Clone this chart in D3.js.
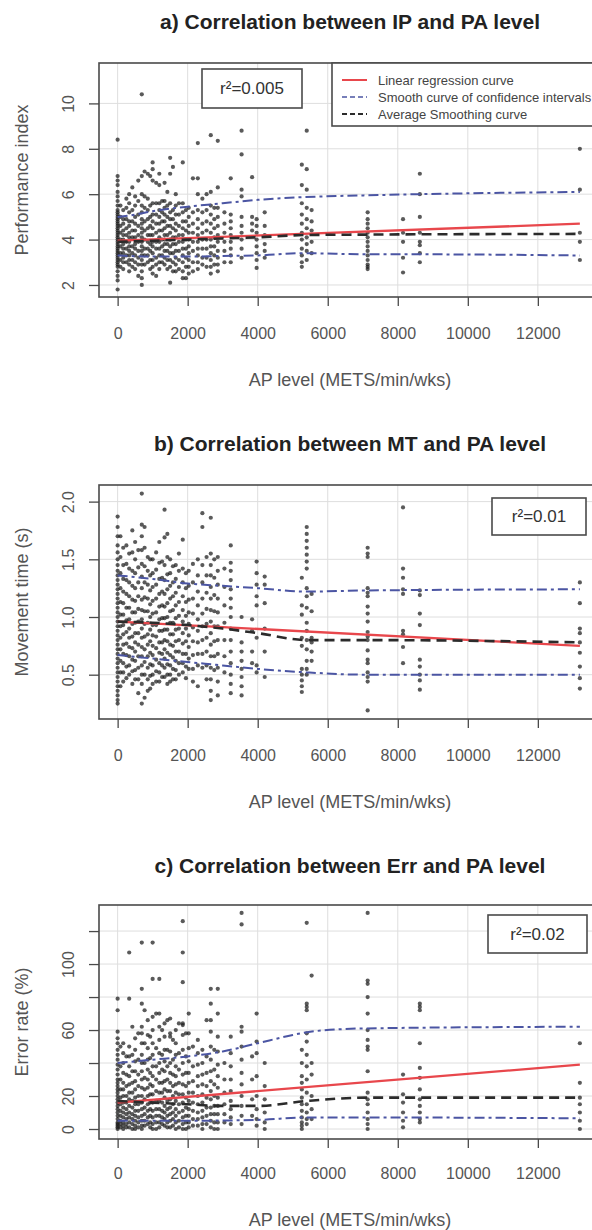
<!DOCTYPE html>
<html>
<head>
<meta charset="utf-8">
<script src="https://cdn.jsdelivr.net/npm/d3@7"></script>
<style>
	body { margin: 0; background: #fff; }
	svg { display: block; }
</style>
</head>
<body>
<div id="chart"></div>
<script>
'use strict'

/**
 * Three scatter panels : AP level against IP, MT and Err.
 */

// AP level columns (METS/min/wks), shared by the three panels
const apLevels = [0, 160, 330, 500, 690, 860, 1000, 1190, 1340, 1500, 1660, 1860, 2030, 2290, 2420,
	2660, 2860, 3230, 3540, 3840, 3970, 4200, 5260, 5400, 5540, 7140, 8150, 8630, 13200];
// in-between columns of the dense low range
const apLevelsExtra = [80, 250, 420, 590, 770, 930, 1100, 1270, 1420, 1580, 1750, 1950, 2150, 2540, 2760, 3050];

// Performance index, one list per AP level
const ipValues = [
	[8.4, 6.8, 6.6, 6.4, 6.1, 5.9, 5.7, 5.5, 5.3, 5.2, 5.1, 5.0, 4.9, 4.8, 4.7, 4.6, 4.5, 4.4, 4.3, 4.2, 4.1, 4.0, 3.9, 3.8, 3.7, 3.6, 3.5, 3.4, 3.3, 3.2, 3.1, 3.0, 2.9, 2.8, 2.6, 2.4, 2.2, 1.8],
	[5.3, 4.9, 4.7, 4.4, 4.2, 4.0, 3.8, 3.6, 3.4, 3.2, 3.0, 2.7],
	[6.0, 5.6, 5.2, 4.8, 4.6, 4.3, 4.1, 3.9, 3.7, 3.5, 3.3, 3.1, 2.9, 2.6],
	[5.9, 5.5, 5.0, 4.7, 4.4, 4.1, 3.8, 3.6, 3.3, 3.0, 2.7],
	[10.4, 6.8, 6.0, 5.5, 5.2, 4.9, 4.7, 4.5, 4.3, 4.1, 3.9, 3.7, 3.5, 3.3, 3.1, 2.9, 2.6, 2.3, 2.0],
	[6.9, 5.8, 5.3, 4.9, 4.5, 4.2, 3.9, 3.6, 3.3, 3.0],
	[7.4, 7.1, 6.6, 5.6, 5.1, 4.8, 4.5, 4.2, 3.9, 3.7, 3.4, 3.1, 2.8, 2.5],
	[6.9, 6.4, 5.6, 5.3, 5.0, 4.7, 4.4, 4.1, 3.9, 3.6, 3.3, 3.0, 2.7],
	[6.5, 5.7, 5.4, 5.1, 4.8, 4.5, 4.2, 4.0, 3.8, 3.5, 3.2, 2.9],
	[7.6, 6.9, 5.6, 5.2, 4.9, 4.6, 4.3, 4.0, 3.7, 3.4, 3.1, 2.8, 2.1],
	[6.0, 5.5, 5.1, 4.7, 4.4, 4.1, 3.8, 3.5, 3.2, 2.9, 2.6],
	[7.4, 5.6, 5.2, 4.8, 4.5, 4.2, 3.9, 3.6, 3.3, 3.0, 2.6, 2.3],
	[5.4, 5.0, 4.6, 4.3, 4.0, 3.7, 3.4, 3.1, 2.8, 2.5],
	[8.25, 6.7, 6.0, 5.3, 4.9, 4.5, 4.2, 3.9, 3.6, 3.3, 3.0, 2.7],
	[5.8, 5.2, 4.7, 4.3, 4.0, 3.6, 3.2, 2.9],
	[8.6, 6.1, 5.5, 5.1, 4.7, 4.3, 4.0, 3.7, 3.4, 3.1, 2.8, 2.5],
	[8.35, 6.3, 5.4, 5.0, 4.6, 4.2, 3.9, 3.5, 3.2, 2.9, 2.6],
	[6.7, 5.1, 4.8, 4.5, 4.2, 3.9, 3.6, 3.3, 3.0],
	[8.8, 7.75, 6.2, 5.9, 5.0, 4.6, 4.3, 4.0, 3.6, 3.2],
	[6.75, 5.0, 4.7, 4.4],
	[4.9, 4.6, 4.3, 4.0, 3.7, 3.4, 3.1, 2.75],
	[5.2, 4.6, 4.2, 3.8, 3.5, 3.2],
	[7.3, 6.4, 5.6, 5.1, 4.7, 4.3, 4.0, 3.6, 3.3, 3.0, 2.8],
	[8.8, 7.1, 6.2, 5.4, 4.9, 4.5, 4.1, 3.8, 3.5, 3.1],
	[5.3, 4.8, 4.4, 3.9, 3.4],
	[5.2, 4.9, 4.7, 4.5, 4.3, 4.1, 3.9, 3.7, 3.5, 3.3, 3.1, 2.9, 2.8, 2.7],
	[4.9, 4.3, 3.9, 3.2, 2.55],
	[6.9, 6.0, 5.0, 4.3, 3.9, 3.75, 3.4, 3.0],
	[8.0, 6.2, 4.3, 3.9, 3.1]
];
const ipExtra = [
	[5.5, 5.0, 4.6, 4.3, 4.0, 3.7, 3.4, 3.1, 2.8],
	[5.8, 5.4, 4.9, 4.5, 4.2, 3.9, 3.6, 3.3, 3.0],
	[6.3, 5.3, 4.8, 4.4, 4.1, 3.7, 3.4, 3.1, 2.8],
	[6.6, 5.7, 5.1, 4.6, 4.2, 3.9, 3.5, 3.2, 2.9, 2.4],
	[7.0, 5.9, 5.4, 4.8, 4.4, 4.0, 3.6, 3.3, 2.9],
	[6.8, 5.5, 5.0, 4.6, 4.2, 3.8, 3.5, 3.1, 2.7],
	[6.5, 5.6, 5.1, 4.7, 4.3, 3.9, 3.6, 3.2, 2.9, 2.4],
	[5.7, 5.2, 4.8, 4.4, 4.0, 3.7, 3.3, 3.0],
	[6.1, 5.5, 5.0, 4.6, 4.2, 3.8, 3.5, 3.1, 2.7],
	[7.2, 5.3, 4.9, 4.5, 4.1, 3.8, 3.4, 3.0, 2.6],
	[5.6, 5.1, 4.6, 4.2, 3.9, 3.5, 3.1, 2.7],
	[5.3, 4.8, 4.4, 4.0, 3.6, 3.2, 2.8, 2.3],
	[6.7, 5.2, 4.7, 4.3, 3.9, 3.5, 3.0, 2.6],
	[6.0, 5.3, 4.8, 4.4, 4.0, 3.6, 3.2, 2.8],
	[5.4, 4.9, 4.5, 4.1, 3.7, 3.3, 2.9],
	[5.2, 4.7, 4.3, 3.9, 3.5, 3.0]
];

// Movement time (s)
const mtValues = [
	[1.87, 1.78, 1.7, 1.62, 1.56, 1.5, 1.45, 1.4, 1.36, 1.32, 1.28, 1.24, 1.2, 1.16, 1.12, 1.08, 1.04, 1.0, 0.96, 0.92, 0.88, 0.84, 0.8, 0.76, 0.72, 0.68, 0.64, 0.6, 0.56, 0.52, 0.48, 0.44, 0.4, 0.36, 0.32, 0.28, 0.25],
	[1.6, 1.45, 1.33, 1.22, 1.12, 1.02, 0.93, 0.85, 0.76, 0.68, 0.6, 0.52, 0.44],
	[1.55, 1.42, 1.3, 1.18, 1.08, 0.98, 0.9, 0.82, 0.74, 0.66, 0.58, 0.5],
	[1.65, 1.5, 1.38, 1.25, 1.14, 1.04, 0.95, 0.86, 0.78, 0.7, 0.62, 0.54, 0.46],
	[2.07, 1.8, 1.7, 1.58, 1.46, 1.35, 1.25, 1.15, 1.06, 0.98, 0.9, 0.82, 0.74, 0.66, 0.58, 0.5, 0.42, 0.25],
	[1.52, 1.4, 1.28, 1.16, 1.05, 0.95, 0.85, 0.76, 0.66, 0.56, 0.46, 0.36],
	[1.5, 1.38, 1.26, 1.14, 1.03, 0.93, 0.84, 0.75, 0.67, 0.58, 0.5, 0.42],
	[1.65, 1.47, 1.33, 1.2, 1.09, 0.98, 0.88, 0.78, 0.69, 0.6, 0.52, 0.44],
	[1.93, 1.69, 1.45, 1.32, 1.2, 1.09, 0.99, 0.89, 0.8, 0.72, 0.64, 0.56, 0.48],
	[1.5, 1.38, 1.27, 1.16, 1.05, 0.95, 0.85, 0.76, 0.67, 0.58, 0.5, 0.44],
	[1.45, 1.33, 1.21, 1.1, 0.99, 0.89, 0.79, 0.7, 0.62, 0.54, 0.46],
	[1.67, 1.42, 1.3, 1.18, 1.06, 0.96, 0.86, 0.77, 0.68, 0.6, 0.52],
	[1.4, 1.27, 1.15, 1.04, 0.94, 0.84, 0.74, 0.64, 0.55],
	[1.5, 1.36, 1.22, 1.1, 0.98, 0.88, 0.78, 0.68, 0.58, 0.4],
	[1.9, 1.78, 1.45, 1.3, 1.16, 1.03, 0.92, 0.8, 0.68, 0.56],
	[1.86, 1.55, 1.45, 1.36, 1.26, 1.16, 1.06, 0.96, 0.86, 0.76, 0.66, 0.56, 0.46, 0.36, 0.28],
	[1.52, 1.4, 1.28, 1.16, 1.04, 0.92, 0.8, 0.68, 0.56, 0.44, 0.32],
	[1.62, 1.47, 1.4, 1.32, 1.24, 1.16, 1.08, 1.0, 0.9, 0.8, 0.7, 0.6, 0.5, 0.42, 0.34],
	[1.0, 0.78, 0.7, 0.62, 0.55, 0.48, 0.4, 0.32],
	[0.98, 0.88, 0.7, 0.6],
	[1.48, 1.38, 1.28, 1.18, 1.1, 0.82, 0.58, 0.52],
	[1.35, 1.28, 1.12, 0.9, 0.7, 0.48],
	[1.34, 1.1, 1.02, 0.82, 0.75, 0.55, 0.5, 0.45, 0.4, 0.35],
	[1.78, 1.72, 1.66, 1.6, 1.54, 1.48, 1.42, 1.25, 1.18, 1.08, 0.95, 0.88, 0.8, 0.72, 0.62, 0.55, 0.5],
	[1.2, 1.05, 0.82, 0.78, 0.7, 0.62],
	[1.6, 1.55, 1.52, 1.25, 1.21, 1.18, 1.09, 1.03, 0.96, 0.87, 0.83, 0.8, 0.71, 0.63, 0.6, 0.52, 0.48, 0.44, 0.19],
	[1.95, 1.42, 1.34, 1.24, 1.2, 0.88, 0.85, 0.74, 0.6],
	[1.23, 1.19, 1.03, 0.93, 0.63, 0.57, 0.5, 0.45, 0.37],
	[1.3, 1.12, 0.9, 0.86, 0.78, 0.69, 0.57, 0.47, 0.38]
];
const mtExtra = [
	[1.7, 1.52, 1.38, 1.25, 1.13, 1.02, 0.92, 0.82, 0.72, 0.62, 0.52, 0.4],
	[1.62, 1.46, 1.32, 1.2, 1.08, 0.97, 0.87, 0.77, 0.67, 0.57, 0.47],
	[1.75, 1.56, 1.4, 1.27, 1.15, 1.04, 0.94, 0.83, 0.73, 0.63, 0.53, 0.42],
	[1.58, 1.43, 1.3, 1.18, 1.07, 0.96, 0.86, 0.76, 0.66, 0.56, 0.46, 0.34],
	[1.78, 1.6, 1.44, 1.3, 1.17, 1.05, 0.94, 0.83, 0.72, 0.61, 0.5, 0.3],
	[1.5, 1.36, 1.23, 1.11, 1.0, 0.89, 0.79, 0.69, 0.59, 0.49, 0.38],
	[1.56, 1.41, 1.28, 1.16, 1.04, 0.93, 0.83, 0.73, 0.63, 0.53, 0.44],
	[1.48, 1.34, 1.22, 1.1, 0.99, 0.88, 0.78, 0.68, 0.58, 0.48],
	[1.72, 1.52, 1.37, 1.24, 1.12, 1.0, 0.89, 0.79, 0.69, 0.59, 0.5, 0.42],
	[1.44, 1.3, 1.18, 1.06, 0.95, 0.85, 0.75, 0.65, 0.55, 0.46],
	[1.55, 1.4, 1.26, 1.13, 1.01, 0.9, 0.8, 0.7, 0.6, 0.5],
	[1.38, 1.25, 1.13, 1.01, 0.9, 0.79, 0.68, 0.57, 0.47],
	[1.46, 1.3, 1.16, 1.03, 0.91, 0.79, 0.67, 0.55, 0.44],
	[1.52, 1.36, 1.21, 1.07, 0.94, 0.82, 0.7, 0.58, 0.46],
	[1.5, 1.34, 1.19, 1.05, 0.92, 0.79, 0.66, 0.54],
	[1.42, 1.26, 1.1, 0.95, 0.8, 0.66, 0.52]
];

// Error rate (%)
const errValues = [
	[79, 72, 59, 55, 52, 48, 45, 42, 39, 36, 33, 30, 28, 26, 24, 22, 20, 18, 16, 14, 12, 10, 8, 6, 4, 3, 2, 1, 0],
	[52, 46, 40, 34, 28, 24, 20, 16, 13, 10, 7, 4, 2, 0],
	[107, 79, 50, 44, 38, 32, 27, 22, 18, 14, 10, 7, 4, 1],
	[55, 48, 41, 35, 29, 24, 19, 15, 11, 8, 5, 2, 0],
	[113, 85, 76, 62, 58, 52, 45, 40, 35, 30, 25, 20, 16, 12, 8, 5, 2, 0],
	[66, 57, 49, 42, 36, 30, 25, 20, 15, 11, 7, 3],
	[113, 91, 68, 60, 52, 45, 38, 32, 26, 21, 16, 11, 7, 3, 0],
	[91, 70, 62, 54, 46, 40, 34, 28, 22, 17, 12, 8, 4, 1],
	[64, 56, 48, 41, 35, 29, 24, 19, 14, 10, 6, 2],
	[67, 58, 56, 47, 40, 34, 28, 23, 18, 13, 9, 5, 1],
	[60, 52, 45, 38, 32, 27, 22, 17, 12, 8, 4, 0],
	[126, 107, 89, 64, 63, 57, 48, 40, 33, 27, 21, 16, 11, 7, 3, 0],
	[70, 58, 49, 41, 34, 28, 22, 17, 12, 8, 4, 1],
	[54, 46, 39, 32, 26, 20, 15, 10, 6, 2],
	[48, 40, 33, 27, 21, 16, 11, 7, 3, 0],
	[85, 76, 66, 59, 50, 42, 35, 29, 23, 18, 13, 9, 5, 1],
	[85, 70, 56, 47, 39, 32, 25, 19, 14, 9, 4, 0],
	[56, 46, 38, 30, 23, 17, 12, 7, 3],
	[131, 124, 62, 59, 50, 42, 34, 27, 20, 14, 8, 3],
	[44, 30, 18, 8],
	[70, 53, 46, 32, 20, 12, 6, 2],
	[40, 26, 18, 10, 4, 0],
	[48, 40, 32, 28, 24, 19, 15, 11, 7, 4, 2, 0],
	[125, 76, 74, 72, 58, 53, 45, 38, 30, 22, 15, 10, 6, 3],
	[93, 40, 33, 20, 12, 6],
	[131, 90, 88, 80, 70, 60, 54, 50, 48, 35, 22, 18, 15, 10, 6, 3, 0],
	[33, 21, 16, 10, 5, 1],
	[76, 74, 72, 52, 37, 31, 24, 18, 14, 10, 6, 4],
	[52, 28, 19, 15, 10, 5, 0]
];
const errExtra = [
	[50, 38, 30, 24, 19, 15, 11, 8, 5, 3, 1],
	[44, 33, 26, 20, 16, 12, 9, 6, 3, 1],
	[62, 45, 35, 28, 22, 17, 13, 9, 6, 3, 0],
	[58, 42, 33, 26, 20, 15, 11, 7, 4, 1],
	[72, 52, 40, 31, 24, 18, 13, 9, 5, 2],
	[56, 43, 34, 27, 21, 16, 12, 8, 4, 1],
	[70, 49, 38, 30, 23, 17, 12, 8, 4, 0],
	[60, 45, 36, 28, 22, 16, 11, 7, 3],
	[66, 48, 38, 30, 23, 17, 12, 8, 4, 1],
	[54, 42, 33, 26, 20, 15, 10, 6, 2],
	[64, 46, 36, 28, 21, 15, 10, 5, 1],
	[58, 44, 34, 26, 19, 13, 8, 4, 0],
	[50, 38, 29, 22, 16, 11, 6, 2],
	[66, 44, 34, 26, 19, 13, 8, 3],
	[48, 36, 27, 20, 14, 9, 4, 0],
	[40, 30, 22, 15, 9, 4]
];

// Fitted curves, [AP level, value]
const ipRegression = [[0, 3.95], [13200, 4.7]];
const ipSmooth = [[0, 3.9], [1000, 3.95], [2000, 4.0], [3000, 4.05], [4000, 4.1], [5300, 4.2], [7100, 4.22], [13200, 4.25]];
const ipUpper = [[0, 5.0], [500, 5.1], [1000, 5.25], [2000, 5.45], [3000, 5.6], [4000, 5.75], [5300, 5.87], [7100, 5.95], [8600, 6.0], [13200, 6.1]];
const ipLower = [[0, 3.3], [1000, 3.25], [2000, 3.25], [3000, 3.28], [4000, 3.3], [5300, 3.4], [7100, 3.35], [8600, 3.35], [13200, 3.3]];

const mtRegression = [[0, 0.96], [13200, 0.75]];
const mtSmooth = [[0, 0.96], [1000, 0.95], [2000, 0.93], [3000, 0.9], [4000, 0.86], [5400, 0.8], [7100, 0.8], [13200, 0.78]];
const mtUpper = [[0, 1.36], [1000, 1.33], [2000, 1.29], [3000, 1.27], [4000, 1.25], [5400, 1.22], [7100, 1.23], [13200, 1.24]];
const mtLower = [[0, 0.67], [1000, 0.64], [2000, 0.61], [3000, 0.58], [4000, 0.55], [5400, 0.52], [7100, 0.5], [13200, 0.5]];

const errRegression = [[0, 16], [13200, 39]];
const errSmooth = [[0, 17], [1000, 16], [2000, 15], [3000, 14], [4000, 14], [5400, 17], [7100, 19], [13200, 19]];
const errUpper = [[0, 40], [1000, 42], [2000, 44], [3000, 47], [4000, 52], [5000, 57], [5500, 59], [7100, 61], [13200, 62]];
const errLower = [[0, 5], [2000, 5], [4000, 5.5], [5400, 7], [7100, 7], [13200, 6.5]];

// Ticks and labels
const xTicks = [0, 2000, 4000, 6000, 8000, 10000, 12000];
const ipTicks = [2, 4, 6, 8, 10];
const mtTicks = [0.5, 1.0, 1.5, 2.0];
const errTicks = [0, 20, 40, 60, 80, 100, 120];
const errTickLabels = [0, 20, 60, 100];

const titles = ['a) Correlation between IP and PA level', 'b) Correlation between MT and PA level', 'c) Correlation between Err and PA level'];
const yTitles = ['Performance index', 'Movement time (s)', 'Error rate (%)'];
const xTitle = 'AP level (METS/min/wks)';
const r2Labels = ['r²=0.005', 'r²=0.01', 'r²=0.02'];
const legendLabels = ['Linear regression curve', 'Smooth curve of confidence intervals', 'Average Smoothing curve'];

/**
 * Layout
 */
const width = 592;
const height = 1230;
const boxLeft = 99;
const boxRight = 602;
const boxHeight = 234;
const font = '"Liberation Sans", Arial, sans-serif';

const colors = {
	point: '#1a1a1a',
	red: '#e8474c',
	blue: '#4b55a3',
	dash: '#2b2b2b',
	grid: '#dedede',
	axis: '#4a4a4a',
	label: '#555'
};

const panels = [
	{
		values: ipValues, extra: ipExtra, reg: ipRegression, smooth: ipSmooth, upper: ipUpper, lower: ipLower,
		yDomain: [1.47, 11.78], yTicks: ipTicks, yFormat: d3.format('d'),
		top: 63, titleY: 22, tickY: 333, xTitleY: 380,
		r2: { x: 202, y: 69, w: 100, h: 39 }, legend: true
	},
	{
		values: mtValues, extra: mtExtra, reg: mtRegression, smooth: mtSmooth, upper: mtUpper, lower: mtLower,
		yDomain: [0.116, 2.144], yTicks: mtTicks, yFormat: d3.format('.1f'),
		top: 485, titleY: 444, tickY: 755, xTitleY: 802,
		r2: { x: 492, y: 498, w: 94, h: 37 }, legend: false
	},
	{
		values: errValues, extra: errExtra, reg: errRegression, smooth: errSmooth, upper: errUpper, lower: errLower,
		yDomain: [-6.06, 135.8], yTicks: errTicks, yFormat: d => errTickLabels.includes(d) ? d : '',
		top: 905, titleY: 866, tickY: 1173, xTitleY: 1220,
		r2: { x: 488, y: 915, w: 99, h: 38 }, legend: false
	}
];

const svg = d3.select('#chart')
	.append('svg')
	.attr('width', width)
	.attr('height', height)
	.style('font-family', font);

const x = d3.scaleLinear()
	.domain([-532, 13832])
	.range([boxLeft, boxRight]);

function collectPoints(levels, values, out) {
	levels.forEach((level, k) => values[k].forEach(v => out.push([level, v])));
	return out;
}

function drawPanel(p, i) {
	let bottom = p.top + boxHeight;
	let y = d3.scaleLinear().domain(p.yDomain).range([bottom, p.top]);
	let g = svg.append('g').attr('class', 'panel_' + i);

	g.append('clipPath')
		.attr('id', 'clip_' + i)
		.append('rect')
			.attr('x', boxLeft)
			.attr('y', p.top)
			.attr('width', boxRight - boxLeft)
			.attr('height', boxHeight);

	// Grille
	g.append('g')
		.selectAll('line')
		.data(xTicks)
		.enter()
		.append('line')
			.attr('x1', d => x(d)).attr('x2', d => x(d))
			.attr('y1', p.top).attr('y2', bottom)
			.attr('stroke', colors.grid);
	g.append('g')
		.selectAll('line')
		.data(p.yTicks)
		.enter()
		.append('line')
			.attr('x1', boxLeft).attr('x2', boxRight)
			.attr('y1', d => y(d)).attr('y2', d => y(d))
			.attr('stroke', colors.grid);

	let plot = g.append('g').attr('clip-path', `url(#clip_${i})`);

	// Points
	let points = collectPoints(apLevels, p.values, []);
	collectPoints(apLevelsExtra, p.extra, points);
	plot.append('g')
		.selectAll('circle')
		.data(points)
		.enter()
		.append('circle')
			.attr('cx', d => x(d[0]))
			.attr('cy', d => y(d[1]))
			.attr('r', 2.1)
			.attr('fill', colors.point)
			.attr('fill-opacity', 0.72);

	let curve = d3.line().x(d => x(d[0])).y(d => y(d[1])).curve(d3.curveMonotoneX);
	let straight = d3.line().x(d => x(d[0])).y(d => y(d[1]));

	for (let band of [p.upper, p.lower]) {
		plot.append('path')
			.attr('d', curve(band))
			.attr('fill', 'none')
			.attr('stroke', colors.blue)
			.attr('stroke-width', 2)
			.attr('stroke-dasharray', '10,4,3,4');
	}
	plot.append('path')
		.attr('d', straight(p.reg))
		.attr('fill', 'none')
		.attr('stroke', colors.red)
		.attr('stroke-width', 2.3);
	plot.append('path')
		.attr('d', curve(p.smooth))
		.attr('fill', 'none')
		.attr('stroke', colors.dash)
		.attr('stroke-width', 2.6)
		.attr('stroke-dasharray', '10,6');

	// Cadre
	g.append('rect')
		.attr('x', boxLeft)
		.attr('y', p.top)
		.attr('width', boxRight - boxLeft)
		.attr('height', boxHeight)
		.attr('fill', 'none')
		.attr('stroke', colors.axis)
		.attr('stroke-width', 1.6);

	// Axes
	let xAxis = g.append('g')
		.attr('transform', `translate(0,${bottom})`)
		.call(d3.axisBottom(x).tickValues(xTicks).tickSize(9).tickFormat(d3.format('d')));
	xAxis.select('.domain').remove();
	xAxis.selectAll('line').attr('stroke', colors.axis).attr('stroke-width', 1.3);
	xAxis.selectAll('text')
		.attr('y', p.tickY - bottom)
		.attr('dy', '0.35em')
		.attr('fill', colors.label)
		.style('font-size', '16px')
		.style('font-family', font);

	let yAxis = g.append('g')
		.attr('transform', `translate(${boxLeft},0)`)
		.call(d3.axisLeft(y).tickValues(p.yTicks).tickSize(10).tickFormat(p.yFormat));
	yAxis.select('.domain').remove();
	yAxis.selectAll('line').attr('stroke', colors.axis).attr('stroke-width', 1.3);
	yAxis.selectAll('text')
		.attr('transform', 'rotate(-90)')
		.attr('x', 0)
		.attr('y', -31)
		.attr('dy', '0.35em')
		.attr('text-anchor', 'middle')
		.attr('fill', colors.label)
		.style('font-size', '16px')
		.style('font-family', font);

	// Titres
	g.append('text')
		.attr('x', 350)
		.attr('y', p.titleY)
		.attr('dy', '0.35em')
		.attr('text-anchor', 'middle')
		.attr('font-weight', 'bold')
		.attr('font-size', 21)
		.attr('fill', '#222')
		.text(titles[i]);
	g.append('text')
		.attr('x', 350)
		.attr('y', p.xTitleY)
		.attr('dy', '0.35em')
		.attr('text-anchor', 'middle')
		.attr('font-size', 18)
		.attr('fill', colors.label)
		.text(xTitle);
	g.append('text')
		.attr('transform', `translate(22,${p.top + boxHeight / 2}) rotate(-90)`)
		.attr('dy', '0.35em')
		.attr('text-anchor', 'middle')
		.attr('font-size', 18)
		.attr('fill', colors.label)
		.text(yTitles[i]);

	// Boite r²
	g.append('rect')
		.attr('x', p.r2.x)
		.attr('y', p.r2.y)
		.attr('width', p.r2.w)
		.attr('height', p.r2.h)
		.attr('fill', '#fff')
		.attr('stroke', colors.axis)
		.attr('stroke-width', 1.6);
	g.append('text')
		.attr('x', p.r2.x + p.r2.w / 2)
		.attr('y', p.r2.y + p.r2.h / 2)
		.attr('dy', '0.35em')
		.attr('text-anchor', 'middle')
		.attr('font-size', 17)
		.attr('fill', '#333')
		.text(r2Labels[i]);

	if (p.legend) drawLegend(g, p.top);
}

function drawLegend(g, top) {
	let styles = [
		{ color: colors.red, dash: null, w: 2 },
		{ color: colors.blue, dash: '5,3', w: 1.6 },
		{ color: colors.dash, dash: '5,3', w: 2 }
	];
	g.append('rect')
		.attr('x', 332)
		.attr('y', top)
		.attr('width', boxRight - 332)
		.attr('height', 63)
		.attr('fill', '#fff')
		.attr('stroke', colors.axis)
		.attr('stroke-width', 1.6);
	let rows = g.append('g')
		.selectAll('g')
		.data(legendLabels)
		.enter()
		.append('g')
			.attr('transform', (d, k) => `translate(0,${top + 17 + k * 17})`);
	rows.append('line')
		.attr('x1', 342).attr('x2', 367)
		.attr('stroke', (d, k) => styles[k].color)
		.attr('stroke-width', (d, k) => styles[k].w)
		.attr('stroke-dasharray', (d, k) => styles[k].dash);
	rows.append('text')
		.attr('x', 378)
		.attr('dy', '0.35em')
		.attr('font-size', 13)
		.attr('fill', '#444')
		.text(d => d);
}

panels.forEach(drawPanel);
</script>
</body>
</html>
